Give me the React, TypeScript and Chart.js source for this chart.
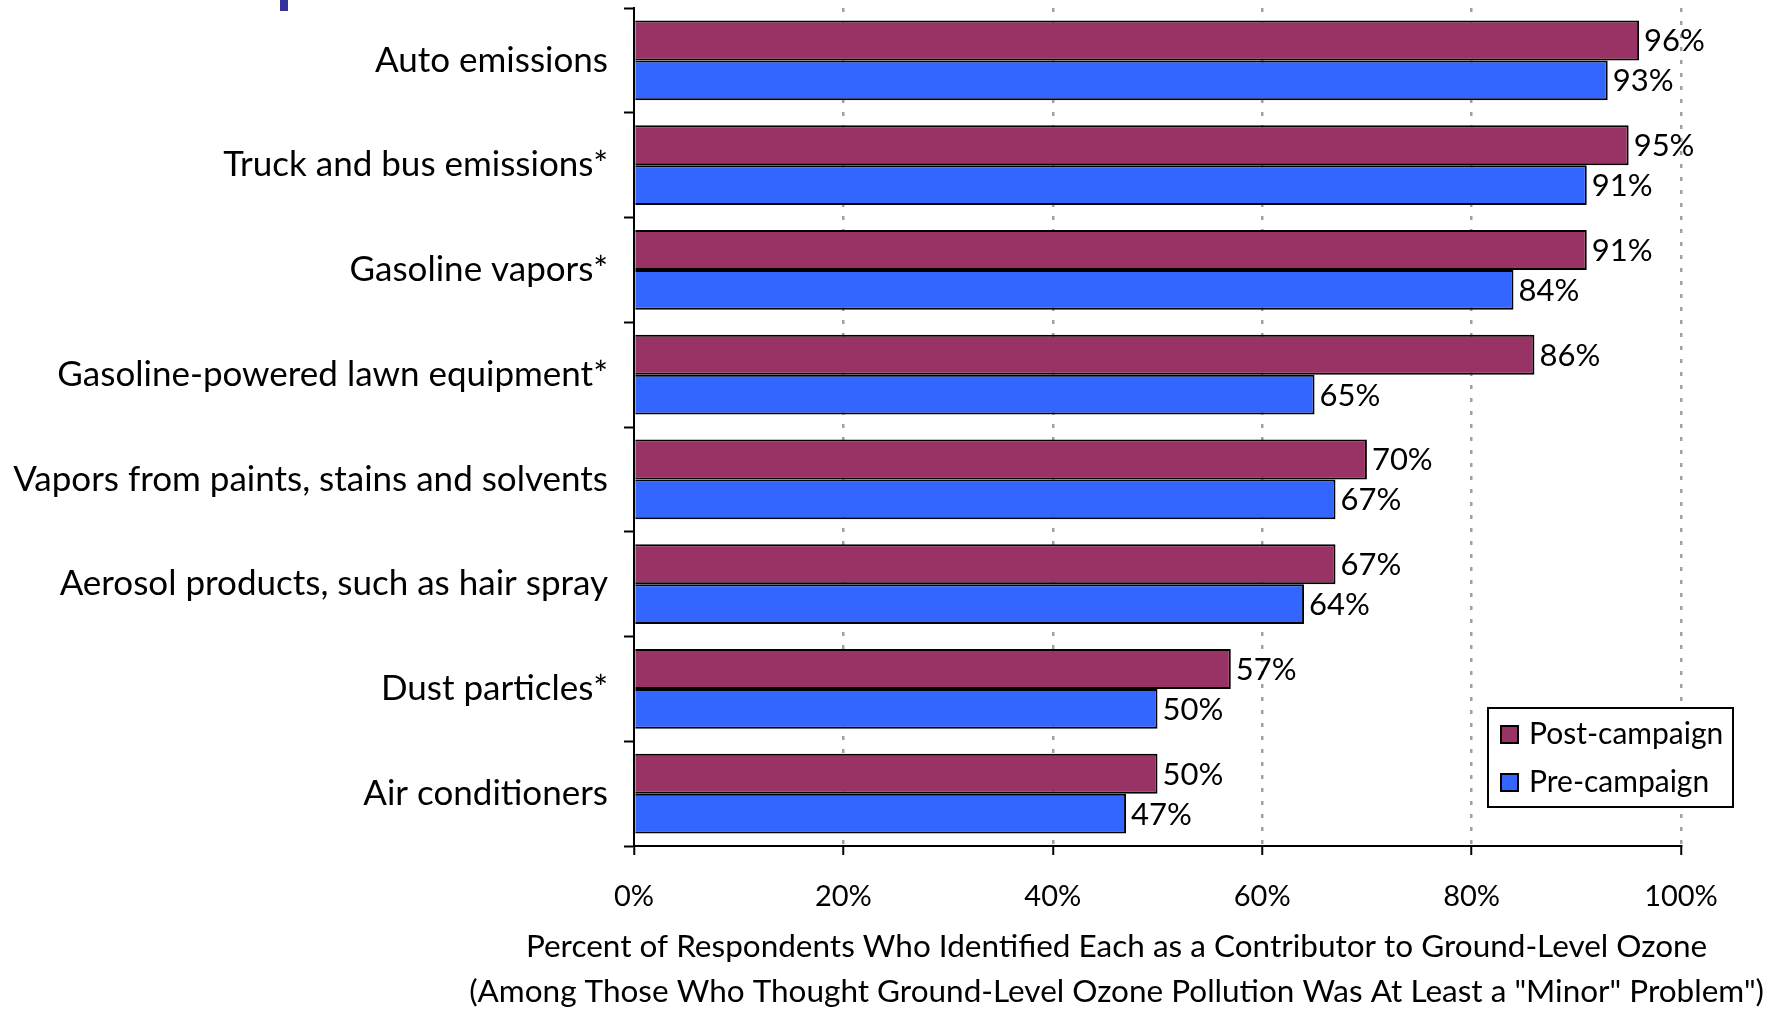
import React, { useEffect, useRef } from "react";
import { Chart, registerables } from "chart.js";

Chart.register(...registerables);

const categories = [
  "Auto emissions",
  "Truck and bus emissions*",
  "Gasoline vapors*",
  "Gasoline-powered lawn equipment*",
  "Vapors from paints, stains and solvents",
  "Aerosol products, such as hair spray",
  "Dust particles*",
  "Air conditioners",
];
const postCampaign = [96, 95, 91, 86, 70, 67, 57, 50];
const preCampaign = [93, 91, 84, 65, 67, 64, 50, 47];
const seriesNames = ["Post-campaign", "Pre-campaign"];
const xTicks = [0, 20, 40, 60, 80, 100];
const titleLines = [
  "Percent of Respondents Who Identified Each as a Contributor to Ground-Level Ozone",
  '(Among Those Who Thought Ground-Level Ozone Pollution Was At Least a "Minor" Problem")',
];

const FONT = "Lato, 'Open Sans', sans-serif";

const valueLabels = {
  id: "valueLabels",
  afterDatasetsDraw(chart: any) {
    const ctx = chart.ctx;
    ctx.save();
    ctx.font = `31px ${FONT}`;
    ctx.fillStyle = "#000";
    ctx.textAlign = "left";
    ctx.textBaseline = "middle";
    chart.data.datasets.forEach((ds: any, i: number) => {
      const meta = chart.getDatasetMeta(i);
      meta.data.forEach((bar: any, j: number) => {
        ctx.fillText(`${ds.data[j]}%`, bar.x + 5, bar.y + 1);
      });
    });
    ctx.restore();
  },
};

const boxLegend = {
  id: "boxLegend",
  afterDraw(chart: any) {
    const ctx = chart.ctx;
    const a = chart.chartArea;
    const w = 245;
    const h = 99;
    const x = a.right + 52 - w;
    const y = a.bottom - 39 - h;
    ctx.save();
    ctx.fillStyle = "#fff";
    ctx.fillRect(x, y, w, h);
    ctx.strokeStyle = "#000";
    ctx.lineWidth = 2;
    ctx.strokeRect(x, y, w, h);
    ctx.font = `30px ${FONT}`;
    ctx.textAlign = "left";
    ctx.textBaseline = "middle";
    chart.data.datasets.forEach((ds: any, i: number) => {
      const cy = y + 26 + i * 48;
      ctx.fillStyle = ds.backgroundColor;
      ctx.fillRect(x + 13, cy - 8, 17, 17);
      ctx.strokeStyle = "#000";
      ctx.lineWidth = 2;
      ctx.strokeRect(x + 13, cy - 8, 17, 17);
      ctx.fillStyle = "#000";
      ctx.fillText(ds.label, x + 41, cy);
    });
    ctx.restore();
  },
};

const bottomTitle = {
  id: "bottomTitle",
  afterDraw(chart: any) {
    const ctx = chart.ctx;
    ctx.save();
    ctx.font = `31.5px ${FONT}`;
    ctx.fillStyle = "#000";
    ctx.textAlign = "center";
    ctx.textBaseline = "middle";
    const maxW = Math.max(...titleLines.map((t) => ctx.measureText(t).width));
    const cx = chart.width - 9 - maxW / 2;
    const base = chart.chartArea.bottom + 101;
    titleLines.forEach((t, i) => ctx.fillText(t, cx, base + i * 45));
    // stray header fragment from the source slide
    ctx.fillStyle = "#333399";
    ctx.fillRect(280, 0, 8, 11);
    ctx.restore();
  },
};

export default function App() {
  const ref = useRef<HTMLCanvasElement | null>(null);
  useEffect(() => {
    if (!ref.current) return;
    const chart = new Chart(ref.current, {
      type: "bar",
      data: {
        labels: categories,
        datasets: [
          {
            label: seriesNames[0],
            data: postCampaign,
            backgroundColor: "#993366",
            borderColor: "#000",
            borderWidth: 2,
            barPercentage: 1,
            categoryPercentage: 0.76,
          },
          {
            label: seriesNames[1],
            data: preCampaign,
            backgroundColor: "#3366FF",
            borderColor: "#000",
            borderWidth: 2,
            barPercentage: 1,
            categoryPercentage: 0.76,
          },
        ],
      },
      options: {
        indexAxis: "y",
        animation: false,
        responsive: false,
        maintainAspectRatio: false,
        layout: { padding: { top: 8, right: 92, left: 0, bottom: 0 } },
        plugins: {
          legend: { display: false },
          tooltip: { enabled: false },
        },
        scales: {
          x: {
            type: "linear",
            min: 0,
            max: 100,
            afterBuildTicks: (scale: any) => {
              scale.ticks = xTicks.map((v) => ({ value: v }));
            },
            afterFit: (scale: any) => {
              scale.height = 163;
              scale.paddingLeft = 0;
              scale.paddingRight = 0;
            },
            ticks: {
              callback: (v: any) => `${v}%`,
              font: { family: FONT, size: 29 },
              color: "#000",
              padding: 24,
              maxRotation: 0,
            },
            grid: {
              color: (c: any) => (c.tick && c.tick.value === 0 ? "rgba(0,0,0,0)" : "#a0a0a0"),
              lineWidth: 2.5,
              tickLength: 9,
              tickColor: "#000",
              tickWidth: 2,
              drawTicks: true,
            } as any,
            border: { display: true, color: "#000", width: 2, dash: [4, 9] } as any,
          },
          y: {
            type: "category",
            offset: true,
            afterFit: (scale: any) => {
              scale.width = 634;
              scale.paddingTop = 0;
              scale.paddingBottom = 0;
            },
            ticks: {
              font: { family: FONT, size: 35 },
              color: "#000",
              padding: 16,
            },
            grid: {
              offset: true,
              drawOnChartArea: false,
              tickLength: 10,
              tickColor: "#000",
              tickWidth: 2,
            },
            border: { display: true, color: "#000", width: 2 },
          },
        },
      } as any,
      plugins: [valueLabels, boxLegend, bottomTitle],
    });
    return () => chart.destroy();
  }, []);
  return (
    <div style={{ position: "absolute", left: 0, top: 0, width: 1773, height: 1009, background: "#fff" }}>
      <canvas ref={ref} width={1773} height={1009} style={{ display: "block" }} />
    </div>
  );
}
